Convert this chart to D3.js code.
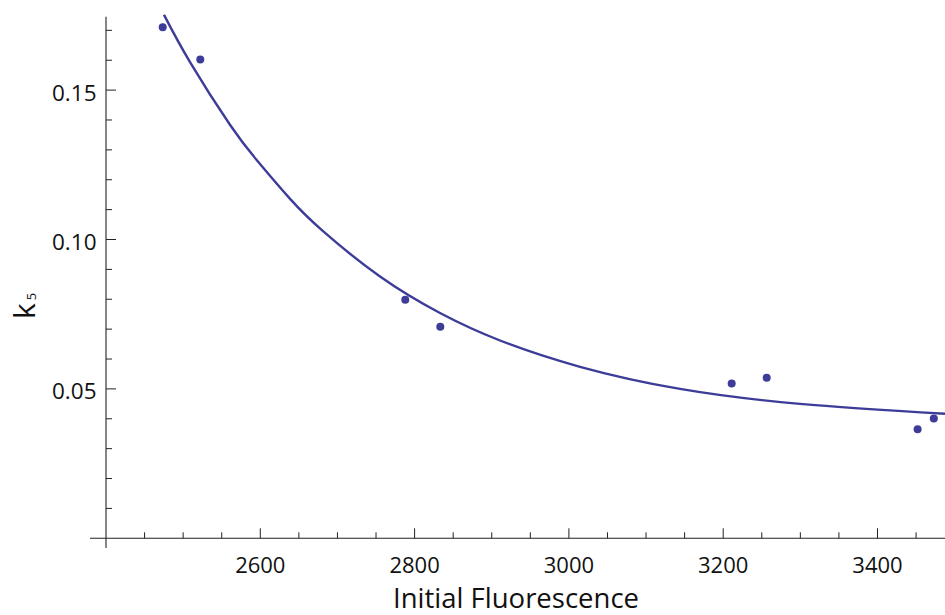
<!DOCTYPE html>
<html>
<head>
<meta charset="utf-8">
<script src="https://cdn.jsdelivr.net/npm/d3@7"></script>
<style>
  html, body { margin: 0; padding: 0; background: #fff; }
  svg { display: block; }
  text { font-family: "Open Sans", "Noto Sans", sans-serif; fill: #111; }
</style>
</head>
<body>
<svg id="chart" width="945" height="615"></svg>
<script>
// ---- data ----
const pointX = [2473.5, 2522.2, 2787.9, 2833.3, 3211.0, 3256.4, 3452.0, 3473.0];
const pointY = [0.1710, 0.1602, 0.0798, 0.0708, 0.0518, 0.0537, 0.0365, 0.0401];

// fitted curve
const curveX = [2475.2, 2508.9, 2560.7, 2595.3, 2638.6, 2681.3, 2755.2, 2832.9, 2910.7, 3014.4, 3144.0, 3299.5, 3487.5];
const curveY = [0.1752, 0.1594, 0.1384, 0.1266, 0.1136, 0.1028, 0.0876, 0.0754, 0.0662, 0.0574, 0.0500, 0.0450, 0.0417];

const xMajorTicks = [2600, 2800, 3000, 3200, 3400];
const xTickLabels = ["2600", "2800", "3000", "3200", "3400"];
const xMinorTicks = [2450, 2500, 2550, 2650, 2700, 2750, 2850, 2900, 2950, 3050, 3100, 3150, 3250, 3300, 3350, 3450];
const yMajorTicks = [0.05, 0.10, 0.15];
const yTickLabels = ["0.05", "0.10", "0.15"];
const yMinorTicks = [0.01, 0.02, 0.03, 0.04, 0.06, 0.07, 0.08, 0.09, 0.11, 0.12, 0.13, 0.14, 0.16, 0.17];

const xTitle = "Initial Fluorescence";
const yTitleMain = "k";
const yTitleSub = "5";

// ---- layout ----
const color = "#3d3d99";
const axisColor = "#222";
const x0 = 106, x1 = 945, yBottom = 538.3, yTop = 15.4;

const svg = d3.select("#chart");
const x = d3.scaleLinear().domain([2400, 3487.5]).range([x0, x1]);
const y = d3.scaleLinear().domain([0, 0.175]).range([yBottom, yTop]);

// axes lines
svg.append("line").attr("x1", 90).attr("x2", 945).attr("y1", yBottom).attr("y2", yBottom)
  .attr("stroke", axisColor).attr("stroke-width", 1.1);
svg.append("line").attr("x1", x0).attr("x2", x0).attr("y1", 16.7).attr("y2", 548)
  .attr("stroke", axisColor).attr("stroke-width", 1.1);

// x ticks (inward, upward)
svg.append("g").selectAll("line.xmaj").data(xMajorTicks).join("line")
  .attr("x1", d => x(d)).attr("x2", d => x(d))
  .attr("y1", yBottom).attr("y2", yBottom - 10)
  .attr("stroke", axisColor).attr("stroke-width", 1);
svg.append("g").selectAll("line.xmin").data(xMinorTicks).join("line")
  .attr("x1", d => x(d)).attr("x2", d => x(d))
  .attr("y1", yBottom).attr("y2", yBottom - 6)
  .attr("stroke", axisColor).attr("stroke-width", 1);
svg.append("g").selectAll("text").data(xMajorTicks).join("text")
  .attr("x", d => x(d)).attr("y", 573)
  .attr("text-anchor", "middle").attr("font-size", 22)
  .text((d, i) => xTickLabels[i]);

// y ticks (inward, rightward)
svg.append("g").selectAll("line.ymaj").data(yMajorTicks).join("line")
  .attr("x1", x0).attr("x2", x0 + 10)
  .attr("y1", d => y(d)).attr("y2", d => y(d))
  .attr("stroke", axisColor).attr("stroke-width", 1);
svg.append("g").selectAll("line.ymin").data(yMinorTicks).join("line")
  .attr("x1", x0).attr("x2", x0 + 6)
  .attr("y1", d => y(d)).attr("y2", d => y(d))
  .attr("stroke", axisColor).attr("stroke-width", 1);
svg.append("g").selectAll("text").data(yMajorTicks).join("text")
  .attr("x", 96.5).attr("y", d => y(d) + 10.5)
  .attr("text-anchor", "end").attr("font-size", 22.5)
  .text((d, i) => yTickLabels[i]);

// titles
svg.append("text").attr("x", 516).attr("y", 608)
  .attr("text-anchor", "middle").attr("font-size", 27.5).text(xTitle);
const yt = svg.append("text")
  .attr("transform", "translate(35,306) rotate(-90)")
  .attr("text-anchor", "middle").attr("font-size", 30);
yt.append("tspan").text(yTitleMain);
yt.append("tspan").attr("font-size", 13).attr("dx", 3).attr("dy", 1).text(yTitleSub);

// curve
const line = d3.line().x(d => x(d[0])).y(d => y(d[1])).curve(d3.curveNatural);
svg.append("path").datum(curveX.map((v, i) => [v, curveY[i]]))
  .attr("d", line).attr("fill", "none").attr("stroke", color).attr("stroke-width", 2.4);

// points
svg.append("g").selectAll("circle").data(pointX.map((v, i) => [v, pointY[i]])).join("circle")
  .attr("cx", d => x(d[0])).attr("cy", d => y(d[1])).attr("r", 4).attr("fill", color);
</script>
</body>
</html>
